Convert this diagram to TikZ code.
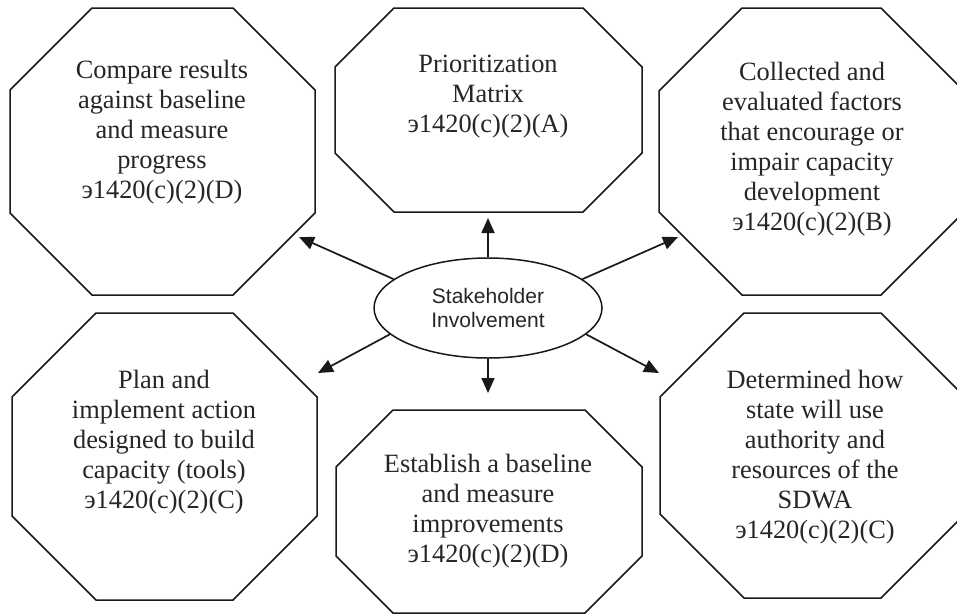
\documentclass[tikz,border=0pt]{standalone}
\usepackage{fontspec}
\setmainfont{Liberation Serif}
\newfontfamily\hubfont{Liberation Sans}
\usetikzlibrary{arrows.meta,shapes.geometric}
\newcommand\drawoctagon[5]{%
  \draw[octline] (#1+#5,#2) -- (#3-#5,#2) -- (#3,#2+#5) -- (#3,#4-#5) -- (#3-#5,#4) -- (#1+#5,#4) -- (#1,#4-#5) -- (#1,#2+#5) -- cycle;}
\tikzset{
  octline/.style={line width=1.5pt, line join=miter, draw=black!90},
  txt/.style={inner sep=0pt, align=center, font=\fontsize{26.4}{30}\selectfont, text=black!85},
  hubnode/.style={ellipse, draw=black!90, line width=1.5pt, minimum width=228pt, minimum height=100pt, inner sep=0pt, align=center, font=\hubfont\fontsize{21}{24}\selectfont, text=black!85},
  arr/.style={line width=1.7pt, draw=black!90, -{Triangle[length=15pt,width=13pt]}}
}
\begin{document}
\begin{tikzpicture}[x=1pt,y=-1pt]
\useasboundingbox (0,0) rectangle (957,614);
\clip (0,0) rectangle (957,614);
\fill[white] (0,0) rectangle (957,614);
% octagons
\drawoctagon{10}{8}{315}{295}{82}
\drawoctagon{335}{8}{642}{212}{59}
\drawoctagon{659}{8}{964}{295}{83}
\drawoctagon{12}{313}{317}{600}{84}
\drawoctagon{336}{410}{642}{613}{57}
\drawoctagon{660}{313}{965}{598}{84}
% texts
\node[txt] (t1) at (162,132) {Compare results\\against baseline\\and measure\\progress\\э1420(c)(2)(D)};
\node[txt] (t2) at (488,97) {Prioritization\\Matrix\\э1420(c)(2)(A)};
\node[txt] (t3) at (812,149) {Collected and\\evaluated factors\\that encourage or\\impair capacity\\development\\э1420(c)(2)(B)};
\node[txt] (t4) at (164,442) {Plan and\\implement action\\designed to build\\capacity (tools)\\э1420(c)(2)(C)};
\node[txt] (t5) at (488,511) {Establish a baseline\\and measure\\improvements\\э1420(c)(2)(D)};
\node[txt] (t6) at (815,457) {Determined how\\state will use\\authority and\\resources of the\\SDWA\\э1420(c)(2)(C)};
% hub
\node[hubnode] (hub) at (488,308) {Stakeholder\\Involvement};
% arrow tips
\coordinate (tipU) at (488,218);
\coordinate (tipUL) at (299,237);
\coordinate (tipUR) at (678,237);
\coordinate (tipLL) at (318,373);
\coordinate (tipLR) at (659,373);
\coordinate (tipD) at (488,393);
\draw[arr] (hub.north) -- (tipU);
\draw[arr] (hub.163) -- (tipUL);
\draw[arr] (hub.17) -- (tipUR);
\draw[arr] (hub.195) -- (tipLL);
\draw[arr] (hub.345) -- (tipLR);
\draw[arr] (hub.south) -- (tipD);
\end{tikzpicture}
\end{document}
